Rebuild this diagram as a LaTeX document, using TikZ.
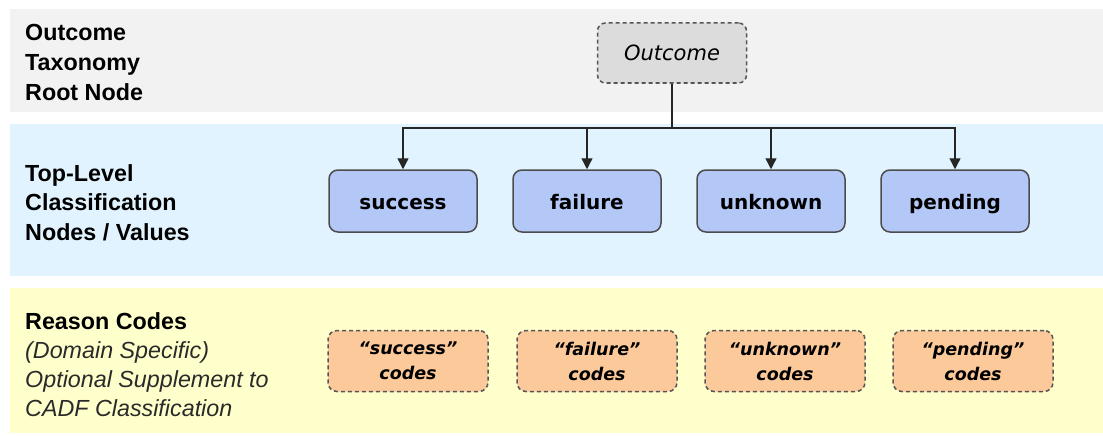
\documentclass[tikz,border=0pt]{standalone}
\usepackage{fontspec}
\setmainfont{Liberation Sans}
\newfontfamily\boxfont{DejaVu Sans}
\usetikzlibrary{arrows.meta}

\definecolor{bandgray}{HTML}{F2F2F2}
\definecolor{bandblue}{HTML}{E1F3FE}
\definecolor{bandyellow}{HTML}{FFFFCC}
\definecolor{rootfill}{HTML}{DCDCDC}
\definecolor{valfill}{HTML}{B4C8F8}
\definecolor{codefill}{HTML}{FCC99A}
\definecolor{edgegray}{HTML}{555555}
\definecolor{labelgray}{HTML}{2A2A2A}

\tikzset{
  sidelabel/.style={anchor=north west, align=left, inner sep=0pt,
    font=\fontsize{23.3}{29.5}\selectfont\bfseries},
  rootbox/.style={draw=edgegray, line width=1.5pt, dash pattern=on 4pt off 3pt,
    fill=rootfill, rounded corners=8pt, minimum width=149pt, minimum height=60pt,
    text height=15pt, text depth=0pt,
    font=\boxfont\fontsize{21}{24}\selectfont\itshape, text=black},
  valbox/.style={draw=edgegray!90!black, line width=1.5pt, fill=valfill,
    rounded corners=9pt, minimum width=148pt, minimum height=62pt,
    text height=16pt, text depth=0pt,
    font=\boxfont\fontsize{20}{24}\selectfont\bfseries, text=black},
  codebox/.style={draw=edgegray, line width=1.5pt, dash pattern=on 4pt off 3pt,
    fill=codefill, rounded corners=9pt, minimum width=160pt, minimum height=61pt,
    align=center, font=\boxfont\fontsize{17.5}{25}\selectfont\bfseries\itshape,
    text=black},
  link/.style={draw=black!85, line width=1.3pt},
  linkarrow/.style={link, -{Triangle[length=11pt,width=11pt]}}
}

\begin{document}
\begin{tikzpicture}[x=1pt, y=-1pt]
  \useasboundingbox (0,0) rectangle (1103,436);

  % horizontal bands
  \fill[bandgray]   (10,9)   rectangle (1103,112);
  \fill[bandblue]   (10,124) rectangle (1103,276);
  \fill[bandyellow] (10,288) rectangle (1103,433);

  % band captions
  \node[sidelabel, font=\fontsize{23.3}{30}\selectfont\bfseries] (capRoot) at (25,24)
    {Outcome\\Taxonomy\\Root Node};
  \node[sidelabel] (capTop) at (25,164)
    {Top-Level\\Classification\\Nodes / Values};
  \node[sidelabel, font=\fontsize{23.3}{29.3}\selectfont] (capCodes) at (25,312)
    {\textbf{Reason Codes}\\
     \textcolor{labelgray}{\itshape (Domain Specific)}\\
     \textcolor{labelgray}{\itshape Optional Supplement to}\\
     \textcolor{labelgray}{\itshape CADF Classification}};

  % root of the taxonomy
  \node[rootbox] (root) at (672,53) {Outcome};

  % top-level values
  \node[valbox] (success) at (403,201) {success};
  \node[valbox] (failure) at (587,201) {failure};
  \node[valbox] (unknown) at (771,201) {unknown};
  \node[valbox] (pending) at (955,201) {pending};

  % reason codes
  \node[codebox] (csuccess) at (408,361) {“success”\\codes};
  \node[codebox] (cfailure) at (597,361) {“failure”\\codes};
  \node[codebox] (cunknown) at (785,361) {“unknown”\\codes};
  \node[codebox] (cpending) at (973,361) {“pending”\\codes};

  % tree connectors
  \coordinate (bus) at (root.south |- 0,128);
  \draw[link] (root.south) -- (bus);
  \foreach \v in {success,failure,unknown,pending}
    \draw[linkarrow] (bus) -| (\v.north);
\end{tikzpicture}
\end{document}
